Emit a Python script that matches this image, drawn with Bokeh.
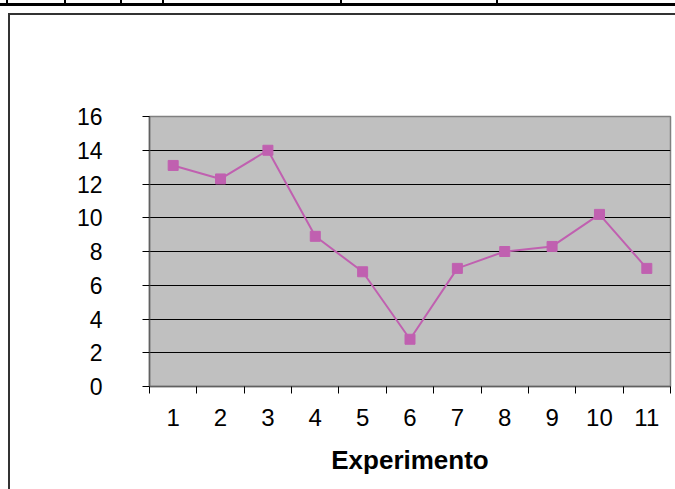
from bokeh.plotting import figure
from bokeh.models import FixedTicker, ColumnDataSource
from bokeh.embed import file_html
from bokeh.resources import INLINE

# Data
experimento = [1, 2, 3, 4, 5, 6, 7, 8, 9, 10, 11]
valores = [13.1, 12.3, 14.0, 8.9, 6.8, 2.8, 7.0, 8.0, 8.3, 10.2, 7.0]
y_ticks = [0, 2, 4, 6, 8, 10, 12, 14, 16]
x_label = "Experimento"

src = ColumnDataSource(data=dict(x=experimento, y=valores))

p = figure(width=675, height=489, output_backend="svg", toolbar_location=None,
           x_range=(0.5, 11.5), y_range=(0, 16),
           min_border_left=149, min_border_right=5, min_border_top=116, min_border_bottom=103)

p.background_fill_color = "#C0C0C0"
p.border_fill_color = None
p.outline_line_color = "#808080"
p.outline_line_width = 1.5

# page decorations behind the transparent canvas border: document table rule and chart frame
def bar(x, y, w, h, c="#000000"):
    return f"linear-gradient({c},{c}) {x}px {y}px / {w}px {h}px no-repeat"

layers = [bar(0, 3, 675, 3)]
for vx in [6, 64, 120, 162, 340, 496]:
    layers.append(bar(vx, 0, 2, 4))
layers.append(bar(8, 13, 667, 2, "#333333"))
layers.append(bar(8, 13, 2, 476, "#333333"))
p.styles = {"background": ", ".join(layers) + ", #ffffff"}

line_col = "#C060B0"
p.line("x", "y", source=src, line_color=line_col, line_width=2)
p.scatter("x", "y", source=src, marker="square", size=10, fill_color=line_col, line_color=line_col)

# Axes
xa = p.xaxis[0]
xa.ticker = FixedTicker(ticks=experimento, minor_ticks=[i + 0.5 for i in range(0, 12)])
xa.major_tick_line_color = None
xa.minor_tick_line_color = "black"
xa.minor_tick_in = 0
xa.minor_tick_out = 7
xa.major_label_standoff = 15
xa.major_label_text_font = "Liberation Sans"
xa.major_label_text_font_size = "24px"
xa.major_label_text_color = "black"
xa.axis_line_color = "#606060"
xa.axis_line_width = 1.5
xa.axis_label = x_label
xa.axis_label_text_font = "Liberation Sans"
xa.axis_label_text_font_style = "bold"
xa.axis_label_text_font_size = "26px"
xa.axis_label_text_color = "black"
xa.axis_label_standoff = 16

ya = p.yaxis[0]
ya.ticker = FixedTicker(ticks=y_ticks, minor_ticks=[])
ya.major_tick_line_color = "black"
ya.major_tick_in = 0
ya.major_tick_out = 7
ya.major_label_standoff = 40
ya.major_label_text_font = "Liberation Sans"
ya.major_label_text_font_size = "23px"
ya.major_label_text_color = "black"
ya.axis_line_color = "#606060"
ya.axis_line_width = 1.5

p.xgrid.grid_line_color = None
p.ygrid.ticker = FixedTicker(ticks=y_ticks)
p.ygrid.grid_line_color = "black"
p.ygrid.grid_line_width = 1

open("out.html", "w").write(file_html(p, INLINE))
